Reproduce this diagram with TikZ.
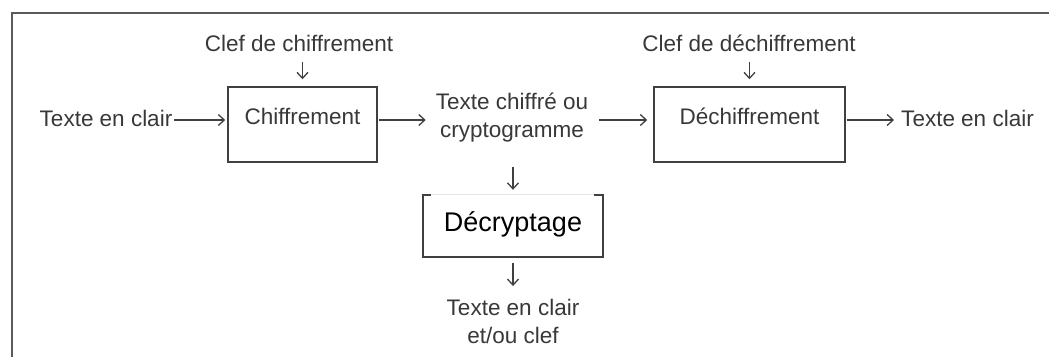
\documentclass[tikz,border=0pt]{standalone}
\usepackage{fontspec}
\setmainfont{Liberation Sans}
\usetikzlibrary{arrows.meta}
\definecolor{ink}{HTML}{383838}
\definecolor{lineink}{HTML}{404040}
\definecolor{framec}{HTML}{5A5A5A}
\definecolor{faint}{HTML}{E4E4E4}
\begin{document}
\begin{tikzpicture}[x=1pt,y=-1pt,
  txt/.style={font=\fontsize{22.5}{28}\selectfont, text=ink, inner sep=1pt, text height=16.5pt, text depth=4.5pt},
  mtxt/.style={font=\fontsize{22.5}{28}\selectfont, text=ink, inner sep=1pt, align=center},
  procbox/.style={draw=lineink, line width=1.5pt, inner sep=0pt, minimum height=75pt,
     font=\fontsize{22.5}{28}\selectfont, text=ink, text height=16.5pt, text depth=17.5pt},
  arr/.style={draw=lineink, line width=1.3pt, -{Straight Barb[length=6pt, width=11pt, line width=1.3pt]}},
  frame/.style={draw=framec, line width=2pt}
]
\useasboundingbox (0,0) rectangle (1049,357);
\draw[frame] (11.5,357) -- (11.5,13) -- (1049,13);

\coordinate (row) at (0,120);

% main row
\node[txt] (tec1) at (106,120) {Texte en clair};
\node[procbox, minimum width=149pt] (chif) at (302.5,124.5) {Chiffrement};
\node[txt] (clef1) at (299,45) {Clef de chiffrement};
\node[mtxt] (crypt) at (512,118) {Texte chiffré ou\\cryptogramme};
\node[procbox, minimum width=191pt] (dech) at (749.5,124.5) {Déchiffrement};
\node[txt] (clef2) at (749,45) {Clef de déchiffrement};
\node[txt] (tec2) at (967.5,120) {Texte en clair};

% cryptanalysis branch
\node[inner sep=0pt, minimum width=180pt, minimum height=62pt,
      font=\fontsize{27}{32}\selectfont, text=black, text height=19.5pt, text depth=8pt]
      (decr) at (513,226) {Décryptage};
\draw[lineink, line width=1.5pt] ([xshift=8pt]decr.north west) -- (decr.north west)
   -- (decr.south west) -- (decr.south east) -- (decr.north east) -- ([xshift=-9pt]decr.north east);
\draw[faint, line width=1pt] ([xshift=8pt]decr.north west) -- ([xshift=-9pt]decr.north east);
\node[mtxt] (res) at (513,321.5) {Texte en clair\\et/ou clef};

% connectors
\draw[arr, shorten <=1pt, shorten >=2pt] (tec1.east) -- (chif.west |- tec1.east);
\draw[arr, shorten <=1pt, shorten >=9pt] (chif.east |- row) -- (crypt.west |- row);
\draw[arr, shorten <=10pt, shorten >=6pt] (crypt.east |- row) -- (dech.west |- row);
\draw[arr, shorten <=1pt, shorten >=6pt] (dech.east |- row) -- (tec2.west |- row);

\draw[arr, shorten <=5.5pt, shorten >=7pt] (chif.north |- clef1.south) -- (chif.north);
\draw[arr, shorten <=5.5pt, shorten >=7pt] (dech.north |- clef2.south) -- (dech.north);
\draw[arr, shorten <=23pt, shorten >=5pt] (decr.north |- crypt.south) -- (decr.north);
\draw[arr, shorten <=6pt, shorten >=12pt] (decr.south) -- (res.north -| decr.south);
\end{tikzpicture}
\end{document}
